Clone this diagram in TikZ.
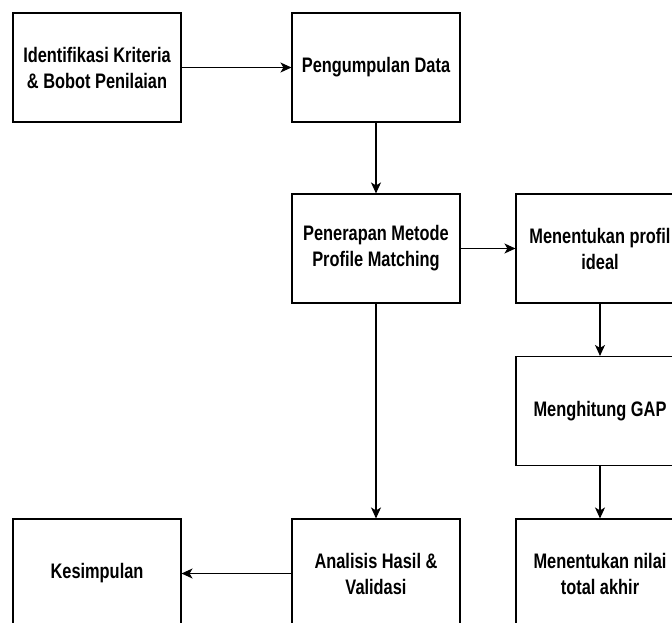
\documentclass[tikz,border=0pt]{standalone}
\usepackage{fontspec}
\setmainfont{Liberation Sans}[FakeStretch=0.78]
\usetikzlibrary{arrows.meta}

\begin{document}
\begin{tikzpicture}[x=1pt,y=-1pt]
\tikzstyle{every node}+=[inner sep=0pt]
\tikzstyle{box}=[draw=black, line width=1.1pt, minimum width=168pt, minimum height=109pt, align=center, font=\bfseries\fontsize{21}{26}\selectfont]
\tikzstyle{arr}=[-{Stealth[length=11pt,width=10pt,inset=3pt]}, line width=1.1pt]
\useasboundingbox (0,0) rectangle (672,623);
\clip (0,0) rectangle (672,623);
\node [box] (ident) at (97,67.5) {Identifikasi Kriteria\\\& Bobot Penilaian};
\node [box] (data) at (376,67.5) {Pengumpulan Data};
\node [box] (metode) at (376,248.5) {Penerapan Metode\\Profile Matching};
\node [box] (ideal) at (600,248.5) {Menentukan profil\\ideal};
\node [box] (gap) at (600,411) {Menghitung GAP};
\node [box] (total) at (600,573.5) {Menentukan nilai\\total akhir};
\node [box] (analisis) at (376,573.5) {Analisis Hasil \&\\Validasi};
\node [box] (simpul) at (97,573.5) {Kesimpulan};
\draw [arr] (ident) -- (data);
\draw [arr] (data) -- (metode);
\draw [arr] (metode) -- (ideal);
\draw [arr] (ideal) -- (gap);
\draw [arr] (gap) -- (total);
\draw [arr] (metode) -- (analisis);
\draw [arr] (analisis) -- (simpul);
\end{tikzpicture}
\end{document}
